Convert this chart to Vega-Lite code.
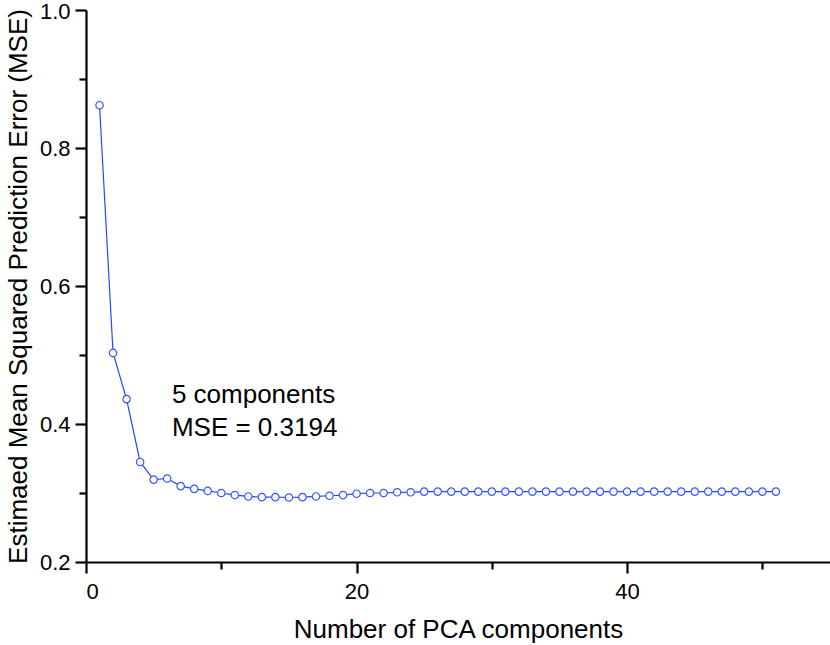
{
  "$schema": "https://vega.github.io/schema/vega-lite/v6.json",
  "width": 744,
  "height": 552,
  "autosize": {"type": "none"},
  "padding": {"left": 86, "top": 10, "right": 0, "bottom": 83},
  "background": "white",
  "config": {
    "view": {"stroke": null},
    "font": "Liberation Sans",
    "axis": {
      "grid": false,
      "domainColor": "black",
      "domainWidth": 2.2,
      "tickColor": "black",
      "tickWidth": 2.2,
      "labelFont": "Liberation Sans",
      "labelFontSize": 22,
      "labelColor": "black",
      "titleFont": "Liberation Sans",
      "titleFontSize": 26,
      "titleFontWeight": "normal",
      "titleColor": "black"
    }
  },
  "datasets": {
    "mse": [
      {"n": 1, "mse": 0.862},
      {"n": 2, "mse": 0.503},
      {"n": 3, "mse": 0.436},
      {"n": 4, "mse": 0.345},
      {"n": 5, "mse": 0.3194},
      {"n": 6, "mse": 0.321},
      {"n": 7, "mse": 0.310},
      {"n": 8, "mse": 0.306},
      {"n": 9, "mse": 0.303},
      {"n": 10, "mse": 0.300},
      {"n": 11, "mse": 0.297},
      {"n": 12, "mse": 0.295},
      {"n": 13, "mse": 0.294},
      {"n": 14, "mse": 0.294},
      {"n": 15, "mse": 0.2935},
      {"n": 16, "mse": 0.294},
      {"n": 17, "mse": 0.295},
      {"n": 18, "mse": 0.296},
      {"n": 19, "mse": 0.297},
      {"n": 20, "mse": 0.299},
      {"n": 21, "mse": 0.300},
      {"n": 22, "mse": 0.300},
      {"n": 23, "mse": 0.301},
      {"n": 24, "mse": 0.301},
      {"n": 25, "mse": 0.302},
      {"n": 26, "mse": 0.302},
      {"n": 27, "mse": 0.302},
      {"n": 28, "mse": 0.302},
      {"n": 29, "mse": 0.302},
      {"n": 30, "mse": 0.302},
      {"n": 31, "mse": 0.302},
      {"n": 32, "mse": 0.302},
      {"n": 33, "mse": 0.302},
      {"n": 34, "mse": 0.302},
      {"n": 35, "mse": 0.302},
      {"n": 36, "mse": 0.302},
      {"n": 37, "mse": 0.302},
      {"n": 38, "mse": 0.302},
      {"n": 39, "mse": 0.302},
      {"n": 40, "mse": 0.302},
      {"n": 41, "mse": 0.302},
      {"n": 42, "mse": 0.302},
      {"n": 43, "mse": 0.302},
      {"n": 44, "mse": 0.302},
      {"n": 45, "mse": 0.302},
      {"n": 46, "mse": 0.302},
      {"n": 47, "mse": 0.302},
      {"n": 48, "mse": 0.302},
      {"n": 49, "mse": 0.302},
      {"n": 50, "mse": 0.302},
      {"n": 51, "mse": 0.302}
    ],
    "note": [
      {"n": 6.35, "mse": 0.4304, "label": ["5 components", "MSE = 0.3194"]}
    ]
  },
  "layer": [
    {
      "data": {"name": "mse"},
      "mark": {"type": "line", "color": "#2446ff", "strokeWidth": 1.2},
      "encoding": {
        "x": {
          "field": "n", "type": "quantitative",
          "scale": {"domain": [0, 55], "nice": false, "zero": false},
          "axis": {
            "title": "Number of PCA components",
            "values": [0, 10, 20, 30, 40, 50],
            "labelExpr": "datum.value % 20 === 0 ? datum.label : ''",
            "tickSize": {"condition": {"test": "datum.value % 20 !== 0", "value": 7}, "value": 11},
            "labelPadding": 8,
            "titlePadding": 14
          }
        },
        "y": {
          "field": "mse", "type": "quantitative",
          "scale": {"domain": [0.2, 1.0], "nice": false, "zero": false},
          "axis": {
            "title": "Estimaed Mean Squared Prediction Error (MSE)",
            "values": [0.2, 0.3, 0.4, 0.5, 0.6, 0.7, 0.8, 0.9, 1.0],
            "format": ".1f",
            "labelExpr": "round(datum.value * 10) % 2 === 0 ? datum.label : ''",
            "labelOffset": {"condition": {"test": "datum.value > 0.95", "value": 1}, "value": 0},
            "tickSize": {"condition": {"test": "round(datum.value * 10) % 2 !== 0", "value": 7}, "value": 11},
            "labelPadding": 5,
            "titlePadding": 8
          }
        }
      }
    },
    {
      "data": {"name": "mse"},
      "mark": {"type": "point", "shape": "circle", "filled": false, "fill": "white", "color": "#3858ff", "strokeWidth": 1.2, "size": 55, "opacity": 1},
      "encoding": {
        "x": {"field": "n", "type": "quantitative"},
        "y": {"field": "mse", "type": "quantitative"}
      }
    },
    {
      "data": {"name": "note"},
      "mark": {"type": "text", "align": "left", "baseline": "alphabetic", "fontSize": 26, "font": "Liberation Sans", "color": "black", "lineHeight": 33},
      "encoding": {
        "x": {"field": "n", "type": "quantitative"},
        "y": {"field": "mse", "type": "quantitative"},
        "text": {"field": "label"}
      }
    }
  ]
}
